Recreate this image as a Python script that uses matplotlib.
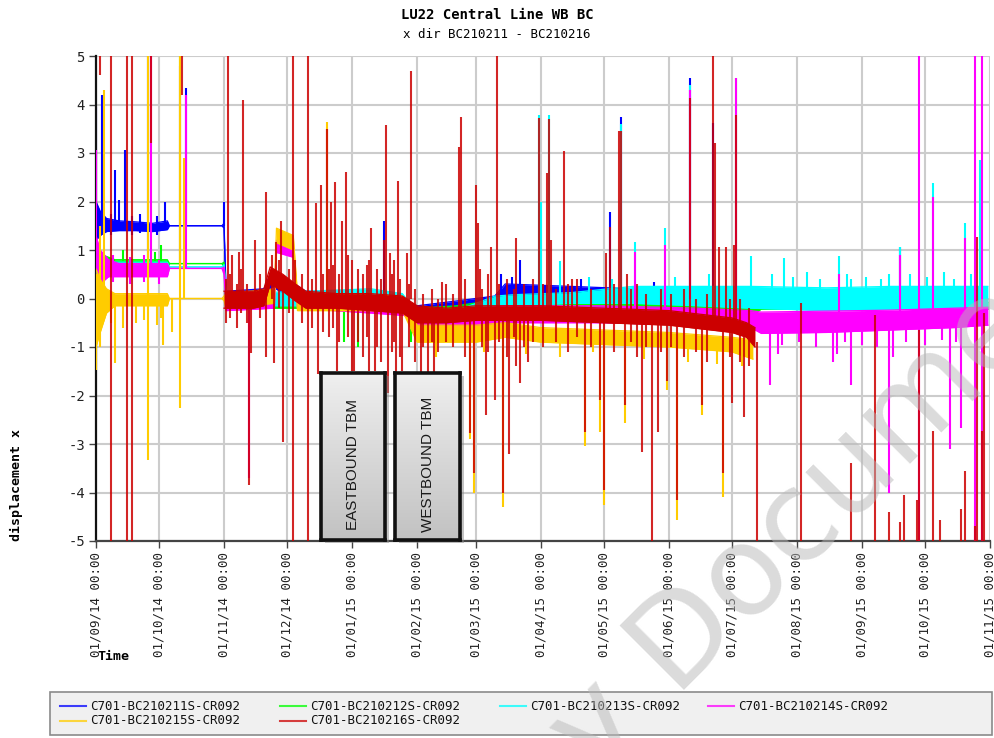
import numpy as np
import pandas as pd
import matplotlib
matplotlib.use("Agg")
import matplotlib.pyplot as plt
import matplotlib.dates as mdates
from matplotlib.patches import Rectangle
from matplotlib.lines import Line2D
from matplotlib.colors import LinearSegmentedColormap

# ---------------- DATA ----------------
series_names = ["C701-BC210211S-CR092", "C701-BC210212S-CR092", "C701-BC210213S-CR092",
                "C701-BC210214S-CR092", "C701-BC210215S-CR092", "C701-BC210216S-CR092"]
series_colors = ["#0000ff", "#00ff00", "#00ffff", "#ff00ff", "#ffcc00", "#cc0000"]

# band envelopes (date, low, high)
b_dates = ['2014-09-01','2014-09-03','2014-09-06','2014-09-12','2014-09-20','2014-09-28','2014-10-05','2014-10-06',
           '2014-10-31','2014-11-01','2014-11-02','2014-11-20','2014-11-24','2014-12-01','2014-12-10','2015-01-10',
           '2015-01-26','2015-02-01','2015-02-20','2015-03-10','2015-03-15','2015-04-15','2015-05-15','2015-06-15','2015-07-10']
b_lo = [1.2,1.3,1.38,1.4,1.4,1.38,1.42,1.5,1.5,1.45,-0.15,-0.1,0.25,0.05,-0.1,-0.15,-0.3,-0.35,-0.3,-0.2,-0.05,0.0,0.0,-0.05,-0.05]
b_hi = [2.0,1.8,1.65,1.6,1.58,1.55,1.6,1.5,1.5,1.55,0.15,0.2,0.6,0.4,0.15,0.15,-0.05,-0.15,-0.05,0.05,0.3,0.25,0.2,0.18,0.15]

g_dates = ['2014-09-01','2014-09-04','2014-09-10','2014-10-05','2014-10-06','2014-10-31','2014-11-01','2014-11-02',
           '2014-12-10','2015-01-25','2015-02-01','2015-02-20','2015-03-15','2015-07-10','2015-07-15','2015-10-31']
g_lo = [0.3,0.55,0.62,0.62,0.72,0.72,0.65,-0.2,-0.2,-0.3,-0.5,-0.45,-0.3,-0.35,-0.22,-0.22]
g_hi = [1.1,0.9,0.8,0.8,0.72,0.72,0.75,0.1,0.05,0.05,-0.2,-0.15,0.0,0.0,-0.08,-0.08]

c_dates = ['2014-09-01','2014-09-04','2014-09-10','2014-10-05','2014-10-06','2014-10-31','2014-11-01','2014-11-02',
           '2014-12-10','2015-01-10','2015-01-25','2015-02-01','2015-02-20','2015-03-10','2015-03-20','2015-04-15',
           '2015-05-15','2015-06-15','2015-07-10','2015-08-15','2015-09-15','2015-10-15','2015-10-31']
c_lo = [0.3,0.5,0.55,0.55,0.65,0.65,0.6,-0.15,-0.15,-0.1,-0.15,-0.45,-0.42,-0.2,-0.15,-0.1,-0.1,-0.15,-0.2,-0.25,-0.22,-0.2,-0.2]
c_hi = [1.1,0.8,0.75,0.75,0.65,0.65,0.7,0.1,0.15,0.2,0.1,-0.3,-0.25,0.05,0.08,0.12,0.25,0.25,0.25,0.22,0.25,0.25,0.25]

m_dates = ['2014-09-01','2014-09-03','2014-09-07','2014-09-12','2014-10-05','2014-10-06','2014-10-31','2014-11-01',
           '2014-11-02','2014-11-25','2014-11-26','2014-12-04','2014-12-06','2015-01-10','2015-01-26','2015-02-01',
           '2015-02-20','2015-03-15','2015-05-01','2015-06-15','2015-07-10','2015-07-15','2015-08-15','2015-09-15',
           '2015-10-15','2015-10-31']
m_lo = [0.2,0.3,0.45,0.45,0.45,0.62,0.62,0.5,-0.25,-0.2,0.95,0.85,-0.2,-0.3,-0.35,-0.65,-0.6,-0.5,-0.5,-0.55,-0.6,-0.72,-0.7,-0.65,-0.6,-0.55]
m_hi = [1.3,1.0,0.8,0.72,0.72,0.62,0.62,0.65,0.1,0.1,1.2,1.1,0.05,0.05,-0.05,-0.3,-0.25,-0.15,-0.15,-0.2,-0.25,-0.28,-0.26,-0.24,-0.2,-0.18]

y_dates = ['2014-09-01','2014-09-03','2014-09-06','2014-09-10','2014-10-05','2014-10-06','2014-10-31','2014-11-01',
           '2014-11-02','2014-11-25','2014-11-26','2014-12-04','2014-12-06','2015-01-25','2015-02-01','2015-03-01',
           '2015-03-15','2015-04-01','2015-05-01','2015-06-01','2015-07-01','2015-07-11']
y_lo = [-1.0,-0.7,-0.3,-0.15,-0.15,0.0,0.0,-0.05,-0.2,-0.1,1.15,1.0,-0.25,-0.25,-0.9,-0.9,-0.8,-0.9,-0.95,-1.0,-1.1,-1.25]
y_hi = [0.6,0.4,0.2,0.1,0.1,0.0,0.0,0.05,0.1,0.2,1.45,1.3,0.1,0.05,-0.55,-0.55,-0.5,-0.6,-0.65,-0.7,-0.8,-0.85]

r_dates = ['2014-11-01','2014-11-15','2014-11-20','2014-11-23','2014-11-29','2014-12-05','2014-12-10','2014-12-25',
           '2015-01-10','2015-01-25','2015-02-01','2015-02-15','2015-03-01','2015-04-01','2015-05-01','2015-06-01',
           '2015-07-01','2015-07-08','2015-07-12']
r_lo = [-0.2,-0.2,-0.15,0.3,0.15,-0.05,-0.2,-0.2,-0.25,-0.3,-0.5,-0.5,-0.45,-0.45,-0.5,-0.55,-0.7,-0.8,-1.0]
r_hi = [0.15,0.15,0.2,0.65,0.5,0.3,0.15,0.1,0.1,0.05,-0.15,-0.2,-0.15,-0.15,-0.2,-0.25,-0.4,-0.5,-0.6]

# spikes (date, from, to)
b_spikes = [('2014-09-01',1.5,3.95),('2014-09-04',1.5,4.2),('2014-09-10',1.5,2.65),('2014-09-12',1.5,2.03),
            ('2014-09-15',1.5,3.06),('2014-09-26',0.8,5.5),('2014-10-04',1.5,2.0),('2014-10-14',1.5,4.34),
            ('2014-11-01',1.5,2.0),('2015-01-16',0.0,1.6),('2015-03-22',0.0,0.8),('2015-05-04',0.0,1.78),
            ('2015-05-09',0.0,3.74),('2015-06-11',0.0,4.54),('2015-06-22',0.0,3.62),('2015-09-19',0.1,1.06),
            ('2014-09-08',1.3,1.75),('2014-09-18',1.3,1.7),('2014-09-22',1.35,1.75),('2014-09-30',1.3,1.7),
            ('2015-03-13',-0.1,0.5),('2015-03-18',-0.1,0.45),('2015-04-20',-0.1,0.4),('2015-05-25',-0.1,0.35)]
g_spikes = [('2014-10-11',0.7,5.5),('2014-12-28',-0.9,0.0),('2015-01-04',-1.0,0.0),('2015-01-29',-0.9,-0.2),
            ('2015-07-03',0.0,4.55),('2014-09-14',0.6,1.0),('2014-09-29',0.6,0.95),('2014-10-02',0.6,1.1)]
c_spikes = [('2015-03-31',0.0,3.78),('2015-04-01',0.0,2.0),('2015-04-05',0.0,3.78),('2015-04-10',0.0,0.77),
            ('2015-05-09',0.0,3.6),('2015-05-16',0.0,1.16),('2015-05-30',0.0,1.45),('2015-06-11',0.0,4.4),
            ('2015-07-10',0.0,0.87),('2015-07-26',0.0,0.83),('2015-08-21',0.0,0.87),('2015-08-27',0.0,0.4),
            ('2015-09-14',0.0,0.5),('2015-09-19',0.0,1.06),('2015-10-05',0.0,2.38),('2015-10-20',0.0,1.55),
            ('2015-10-27',0.0,2.85),
            ('2015-07-20',0.0,0.5),('2015-07-30',0.0,0.45),('2015-08-06',0.0,0.55),('2015-08-12',0.0,0.4),
            ('2015-08-25',0.0,0.5),('2015-09-03',0.0,0.45),('2015-09-10',0.0,0.4),('2015-09-24',0.0,0.5),
            ('2015-10-02',0.0,0.45),('2015-10-10',0.0,0.55),('2015-10-15',0.0,0.4),('2015-10-23',0.0,0.5),
            ('2015-04-24',0.0,0.45),('2015-05-05',0.0,0.4),('2015-06-04',0.0,0.45),('2015-06-20',0.0,0.5)]
m_spikes = [('2014-09-01',0.6,3.06),('2014-09-27',0.6,5.5),('2014-10-11',0.6,4.8),('2014-10-14',0.6,4.2),
            ('2014-11-13',-3.7,0.0),('2014-12-20',0.0,3.5),('2015-05-16',-0.3,0.95),('2015-05-30',-0.3,1.1),
            ('2015-06-11',0.0,4.3),('2015-07-03',-0.4,4.54),('2015-07-19',-1.78,-0.5),('2015-07-23',-1.15,-0.5),
            ('2015-08-18',-1.3,-0.5),('2015-08-20',-1.15,-0.5),('2015-08-21',-0.4,0.5),('2015-08-27',-1.78,-0.5),
            ('2015-09-14',-4.0,-0.5),('2015-09-16',-1.2,-0.5),('2015-09-19',-0.4,0.9),('2015-09-28',-5.5,5.5),
            ('2015-10-05',-0.4,2.1),('2015-10-13',-3.1,-0.5),('2015-10-18',-2.67,-0.5),('2015-10-20',-0.4,1.25),
            ('2015-10-25',-5.5,5.5),('2015-10-28',-5.5,5.5),
            ('2015-07-25',-0.95,-0.4),('2015-08-02',-0.9,-0.4),('2015-08-10',-1.0,-0.4),('2015-08-24',-0.9,-0.4),
            ('2015-09-01',-0.95,-0.4),('2015-09-08',-1.0,-0.4),('2015-09-22',-0.9,-0.4),('2015-10-01',-0.95,-0.4),
            ('2015-10-09',-0.85,-0.4),('2015-10-16',-0.9,-0.4),
            ('2014-09-09',0.35,0.9),('2014-09-17',0.3,0.85),('2014-09-24',0.35,0.9),('2014-10-01',0.3,0.8)]
y_spikes = [('2014-09-01',-1.47,0.5),('2014-09-03',-1.0,1.5),('2014-09-05',0.0,4.3),('2014-09-10',-1.33,0.0),
            ('2014-09-26',-3.33,5.5),('2014-10-03',-0.95,0.0),('2014-10-07',-0.7,0.0),('2014-10-11',-2.26,5.5),
            ('2014-10-13',0.0,2.9),('2014-12-20',0.0,3.64),('2015-02-26',-2.9,-0.8),('2015-02-28',-4.0,-0.8),
            ('2015-03-14',-4.3,-0.8),('2015-04-22',-3.04,-0.8),('2015-04-29',-2.75,-0.8),('2015-05-01',-4.26,-0.8),
            ('2015-05-11',-2.57,-0.9),('2015-05-31',-1.89,-0.9),('2015-06-05',-4.57,-0.9),('2015-06-17',-2.4,-1.0),
            ('2015-06-27',-4.09,-1.0),
            ('2014-09-08',-0.5,0.0),('2014-09-14',-0.6,0.0),('2014-09-20',-0.5,0.0),('2014-09-24',-0.45,0.0),
            ('2014-09-30',-0.55,0.0),('2014-10-02',-0.4,0.0),
            ('2015-02-10',-1.2,-0.7),('2015-03-05',-1.1,-0.7),('2015-03-25',-1.15,-0.7),('2015-04-10',-1.2,-0.8),
            ('2015-04-26',-1.1,-0.8),('2015-05-20',-1.25,-0.8),('2015-06-10',-1.3,-0.9),('2015-06-24',-1.35,-0.9),
            ('2015-07-06',-1.4,-1.0)]
r_spikes = [('2014-09-03',4.6,5.5),('2014-09-08',-5.5,5.5),('2014-09-16',-5.5,5.5),('2014-09-18',-5.5,5.5),
            ('2014-09-27',3.2,5.5),('2014-10-12',4.2,5.5),('2014-11-03',0.0,5.5),('2014-11-05',0.0,0.9),
            ('2014-11-08',0.0,0.95),('2014-11-10',0.0,4.1),('2014-11-13',-3.85,0.0),('2014-11-14',-1.13,0.0),
            ('2014-11-16',0.0,1.2),('2014-11-21',-1.2,2.2),('2014-11-25',-1.33,0.3),('2014-11-26',0.4,1.16),
            ('2014-11-28',0.4,1.6),('2014-11-29',-2.95,0.3),('2014-12-04',-5.5,5.5),('2014-12-05',0.0,0.8),
            ('2014-12-11',-5.5,5.5),('2014-12-15',0.0,1.97),('2014-12-16',-1.55,0.0),('2014-12-17',0.0,2.34),
            ('2014-12-20',0.0,3.5),('2014-12-22',0.0,2.0),('2014-12-24',0.0,2.4),('2014-12-25',-1.5,0.0),
            ('2014-12-27',0.0,1.6),('2014-12-29',0.0,2.6),('2015-01-01',-1.5,0.8),('2015-01-02',-1.5,0.0),
            ('2015-01-09',-1.5,0.8),('2015-01-10',0.0,1.45),('2015-01-12',-1.5,0.0),('2015-01-16',0.0,1.2),
            ('2015-01-17',0.0,3.57),('2015-01-18',-1.95,0.0),('2015-01-19',0.0,0.94),('2015-01-22',-1.5,0.0),
            ('2015-01-23',0.0,2.42),('2015-01-25',-1.5,0.0),('2015-01-27',0.0,0.94),('2015-01-29',0.0,4.7),
            ('2015-02-03',-1.6,-0.3),('2015-02-06',-1.6,-0.3),('2015-02-09',-1.6,-0.3),('2015-02-13',-0.3,0.34),
            ('2015-02-21',-0.3,3.12),('2015-02-22',-0.3,3.74),('2015-02-26',-2.78,-0.4),('2015-02-28',-3.6,-0.4),
            ('2015-03-01',-0.3,2.34),('2015-03-02',-0.3,1.56),('2015-03-03',-0.3,0.6),('2015-03-06',-2.4,-0.4),
            ('2015-03-08',-0.3,1.07),('2015-03-10',-2.1,-0.4),('2015-03-11',-0.3,5.5),('2015-03-14',-4.0,-0.4),
            ('2015-03-17',-3.2,-0.4),('2015-03-20',-1.4,1.24),('2015-03-22',-1.75,-0.4),('2015-03-26',-1.3,-0.4),
            ('2015-03-31',-0.3,3.72),('2015-04-04',-0.3,2.58),('2015-04-05',-0.3,3.7),('2015-04-06',-0.3,1.2),
            ('2015-04-12',-0.3,3.04),('2015-04-16',-0.3,0.4),('2015-04-22',-2.75,-0.5),('2015-04-29',-2.1,-0.5),
            ('2015-05-01',-3.95,-0.5),('2015-05-02',-0.3,0.93),('2015-05-04',-0.3,1.47),('2015-05-08',-0.3,3.45),
            ('2015-05-09',-0.3,3.45),('2015-05-11',-2.2,-0.5),('2015-05-12',-0.3,0.5),('2015-05-19',-3.16,-0.5),
            ('2015-05-24',-5.5,-0.5),('2015-05-27',-2.75,-0.5),('2015-05-31',-1.7,-0.5),('2015-06-05',-4.15,-0.5),
            ('2015-06-11',-0.4,4.13),('2015-06-17',-2.2,-0.5),('2015-06-22',-0.4,5.5),('2015-06-23',-0.4,3.2),
            ('2015-06-25',-0.4,1.06),('2015-06-27',-3.6,-0.6),('2015-06-28',-0.4,1.06),('2015-07-01',-2.16,-0.6),
            ('2015-07-02',-0.5,1.1),('2015-07-03',-0.5,3.78),('2015-07-07',-2.44,-0.7),('2015-07-13',-5.5,-0.9),
            ('2015-08-03',-5.5,-0.1),('2015-08-27',-5.5,-3.4),('2015-09-07',-5.5,-0.35),('2015-09-14',-5.5,-4.4),
            ('2015-09-19',-5.5,-4.6),('2015-09-21',-5.5,-4.05),('2015-09-27',-5.5,-4.15),('2015-09-28',-5.5,-0.65),
            ('2015-10-05',-5.5,-2.73),('2015-10-08',-5.5,-4.56),('2015-10-18',-5.5,-4.35),('2015-10-20',-5.5,-3.56),
            ('2015-10-25',-5.5,-4.7),('2015-10-26',-5.5,1.27),('2015-10-28',-5.5,-2.73),('2015-10-29',-5.5,-0.3),
            # shorter spikes around the band
            ('2014-11-02',-0.5,0.4),('2014-11-04',-0.4,0.5),('2014-11-07',-0.6,0.3),('2014-11-09',-0.3,0.6),
            ('2014-11-12',-0.5,0.3),('2014-11-18',-0.4,0.5),('2014-11-24',0.0,0.9),('2014-11-27',-0.2,0.8),
            ('2014-12-02',-0.3,0.6),('2014-12-08',-0.5,0.5),('2014-12-13',-0.6,0.4),('2014-12-18',-0.7,0.5),
            ('2014-12-21',-0.8,0.6),('2014-12-23',-0.6,0.7),('2014-12-26',-0.9,0.5),('2014-12-30',-0.8,0.9),
            ('2015-01-04',-0.9,0.6),('2015-01-06',-1.2,0.5),('2015-01-08',-0.8,0.7),('2015-01-13',-1.0,0.6),
            ('2015-01-15',-1.3,0.4),('2015-01-20',-1.1,0.5),('2015-01-21',-0.9,0.8),('2015-01-24',-1.2,0.4),
            ('2015-01-28',-1.0,0.3),('2015-01-31',-1.3,0.2),('2015-02-04',-1.0,0.1),('2015-02-08',-0.9,0.2),
            ('2015-02-11',-1.1,0.0),('2015-02-15',-0.9,0.3),('2015-02-18',-1.0,0.1),('2015-02-24',-1.2,0.4),
            ('2015-03-04',-1.0,0.2),('2015-03-07',-1.1,0.5),('2015-03-12',-0.9,0.3),('2015-03-16',-1.2,0.4),
            ('2015-03-19',-0.8,0.2),('2015-03-24',-1.0,0.3),('2015-03-28',-0.9,0.4),('2015-04-02',-1.0,0.3),
            ('2015-04-08',-0.9,0.2),('2015-04-14',-1.1,0.3),('2015-04-18',-0.8,0.4),('2015-04-25',-1.0,0.2),
            ('2015-05-06',-1.1,0.3),('2015-05-14',-0.9,0.2),('2015-05-17',-1.2,0.3),('2015-05-21',-1.0,0.1),
            ('2015-05-28',-1.1,0.2),('2015-06-02',-1.0,0.1),('2015-06-08',-1.2,0.2),('2015-06-14',-1.1,0.0),
            ('2015-06-19',-1.3,0.1),('2015-06-30',-1.2,0.0),('2015-07-05',-1.3,0.0),('2015-07-09',-1.4,-0.2)]

month_ticks = pd.date_range('2014-09-01', '2015-11-01', freq='MS')
y_ticks = [-5, -4, -3, -2, -1, 0, 1, 2, 3, 4, 5]

bands = [(b_dates, b_lo, b_hi, b_spikes), (g_dates, g_lo, g_hi, g_spikes), (c_dates, c_lo, c_hi, c_spikes),
         (m_dates, m_lo, m_hi, m_spikes), (y_dates, y_lo, y_hi, y_spikes), (r_dates, r_lo, r_hi, r_spikes)]

# ---------------- PLOT ----------------
W, H = 994, 738
fig = plt.figure(figsize=(W / 100, H / 100), dpi=100)
mono = "DejaVu Sans Mono"

def fx(px):
    return px / W

def fy(py):
    return 1 - py / H

ax = fig.add_axes([fx(96), fy(541), fx(990) - fx(96), fy(56) - fy(541)])

for i, (d, lo, hi, sp) in enumerate(bands):
    col = series_colors[i]
    dd = pd.to_datetime(d)
    z = 2 + i
    ax.fill_between(dd, lo, hi, color=col, lw=0, zorder=z)
    ax.plot(dd, lo, color=col, lw=0.9, zorder=z)
    ax.plot(dd, hi, color=col, lw=0.9, zorder=z)
    sd = pd.to_datetime([s[0] for s in sp])
    ax.vlines(sd, [s[1] for s in sp], [s[2] for s in sp], color=col, lw=1.5,
              alpha=0.85 if i == 5 else 1.0, zorder=z)

ax.set_xlim(pd.Timestamp('2014-09-01'), pd.Timestamp('2015-11-01'))
ax.set_ylim(-5, 5)
ax.set_xticks(month_ticks)
ax.xaxis.set_major_formatter(mdates.DateFormatter('%d/%m/%y %H:%M'))
ax.set_yticks(y_ticks)
ax.set_yticklabels([str(v) for v in y_ticks])
for lab in ax.get_xticklabels():
    lab.set_rotation(90)
    lab.set_fontfamily(mono)
    lab.set_fontsize(9)
    lab.set_color('#222222')
for lab in ax.get_yticklabels():
    lab.set_fontfamily(mono)
    lab.set_fontsize(10)
    lab.set_color('#222222')
ax.tick_params(axis='both', direction='out', length=5, width=1, color='#444444', pad=3)
ax.grid(True, color='#cccccc', lw=1.5, zorder=0)
ax.set_axisbelow(True)
for s in ['top', 'right']:
    ax.spines[s].set_visible(False)
ax.spines['left'].set_color('#111111')
ax.spines['left'].set_linewidth(1.6)
ax.spines['bottom'].set_color('#444444')
ax.spines['bottom'].set_linewidth(1.6)

# titles and labels
fig.text(0.5, fy(15), 'LU22 Central Line WB BC', ha='center', va='center',
         fontfamily=mono, fontweight='bold', fontsize=10)
fig.text(0.5, fy(34), 'x dir BC210211 - BC210216', ha='center', va='center',
         fontfamily=mono, fontsize=9)
fig.text(fx(16), fy(485), 'displacement x', rotation=90, ha='center', va='center',
         fontfamily=mono, fontweight='bold', fontsize=9.5)
fig.text(fx(97), fy(657), 'Time', ha='left', va='center',
         fontfamily=mono, fontweight='bold', fontsize=9.5)

# TBM boxes
grad_cmap = LinearSegmentedColormap.from_list('g', ['#efefef', '#c2c2c2'])
for (x0, x1, label) in [(321, 385, 'EASTBOUND TBM'), (395, 460, 'WESTBOUND TBM')]:
    fig.add_artist(Rectangle((fx(x0 + 4), fy(543)), fx(x1) - fx(x0), fy(373) - fy(540),
                             transform=fig.transFigure, facecolor='#888888', alpha=0.5,
                             edgecolor='none', zorder=3))
    bax = fig.add_axes([fx(x0), fy(540), fx(x1) - fx(x0), fy(373) - fy(540)], zorder=4)
    bax.imshow(np.linspace(0, 1, 100)[:, None], cmap=grad_cmap, aspect='auto', extent=[0, 1, 0, 1])
    bax.set_xticks([])
    bax.set_yticks([])
    for s in bax.spines.values():
        s.set_linewidth(2.6)
        s.set_color('#111111')
    bax.text(0.5, 0.45, label, rotation=90, ha='center', va='center', transform=bax.transAxes,
             fontfamily='Liberation Sans', fontsize=11, color='#1a1a1a')

# legend
fig.add_artist(Rectangle((fx(50), fy(735)), fx(992) - fx(50), fy(692) - fy(735),
                         transform=fig.transFigure, facecolor='#f0f0f0', edgecolor='#8a8a8a',
                         lw=1.2, zorder=5))
leg_x = [90, 310, 530, 738]
leg_y = [706, 721]
for i, name in enumerate(series_names):
    r, c = divmod(i, 4)
    tx, ty = leg_x[c], leg_y[r]
    fig.add_artist(Line2D([fx(tx - 30), fx(tx - 4)], [fy(ty), fy(ty)], transform=fig.transFigure,
                          color=series_colors[i], lw=1.5, alpha=0.75, zorder=6))
    fig.text(fx(tx), fy(ty), name, ha='left', va='center', fontfamily=mono, fontsize=9,
             color='#111111', zorder=6)

# watermark
fig.text(fx(734), fy(640), 'Legacy Document', rotation=45, rotation_mode='anchor',
         ha='center', va='baseline', fontfamily='DejaVu Sans', fontsize=90,
         color='#b8b8b8', alpha=0.5, zorder=10)

fig.savefig('out.png', dpi=100)
